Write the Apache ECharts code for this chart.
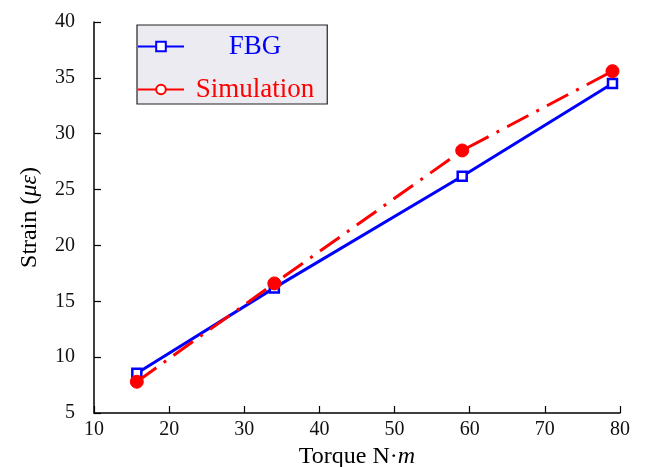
<!DOCTYPE html>
<html><head><meta charset="utf-8">
<script src="https://cdn.jsdelivr.net/npm/echarts@6/dist/echarts.min.js"></script>
<style>html,body{margin:0;padding:0;background:#fff}#c{width:648px;height:467px}</style>
</head><body><div id="c"></div>
<script>
const torque = [15.7, 34.0, 59.0, 79.0];
const fbg = [8.55, 16.2, 26.2, 34.5];
const simulation = [7.8, 16.6, 28.5, 35.6];
const xTicks = [10, 20, 30, 40, 50, 60, 70, 80];
const yTicks = [5, 10, 15, 20, 25, 30, 35, 40];

const font = 'Liberation Serif, Times New Roman, serif';
const chart = echarts.init(document.getElementById('c'));
chart.setOption({
  animation: false,
  backgroundColor: '#fff',
  grid: {left: 94, right: 28, top: 22, bottom: 54, outerBoundsMode: 'none', containLabel: false},
  legend: {
    left: 137, top: 25, orient: 'vertical',
    backgroundColor: '#ecebf1', borderColor: '#222', borderWidth: 1.2,
    padding: [8, 13, 1, 0],
    itemWidth: 46, itemHeight: 12, itemGap: 16,
    formatter: name => '{t|' + name + '}',
    textStyle: {fontFamily: font, fontSize: 27,
      rich: {t: {fontFamily: font, fontSize: 27, width: 132, align: 'center'}}},
    data: [
      {name: 'FBG', textStyle: {color: '#0000ff', rich: {t: {color: '#0000ff'}}}, itemStyle: {color: '#fff', borderColor: '#0000ff', borderWidth: 2}},
      {name: 'Simulation', textStyle: {color: '#ff0000', rich: {t: {color: '#ff0000'}}}, itemStyle: {color: '#fff', borderColor: '#ff0000', borderWidth: 2}, lineStyle: {type: 'solid'}}
    ]
  },
  xAxis: {
    type: 'value', min: 10, max: 80, interval: 10,
    name: 'Torque N·{i|m}', nameLocation: 'middle', nameGap: 28,
    nameTextStyle: {fontFamily: font, fontSize: 24, color: '#000', rich: {i: {fontFamily: font, fontStyle: 'italic', fontSize: 24, color: '#000'}}},
    axisLine: {lineStyle: {color: '#000', width: 1.5}},
    axisTick: {inside: true, length: 7, lineStyle: {color: '#000', width: 1.2}},
    axisLabel: {fontFamily: font, fontSize: 20, color: '#111', margin: 7},
    splitLine: {show: false}
  },
  yAxis: {
    type: 'value', min: 5, max: 40, interval: 5,
    name: 'Strain ({i|με})', nameLocation: 'middle', nameGap: 52, nameRotate: 90,
    nameTextStyle: {fontFamily: font, fontSize: 24, color: '#000', rich: {i: {fontFamily: font, fontStyle: 'italic', fontSize: 24, color: '#000'}}},
    axisLine: {show: true, lineStyle: {color: '#000', width: 1.5}},
    axisTick: {show: true, inside: true, length: 7, lineStyle: {color: '#000', width: 1.2}},
    axisLabel: {fontFamily: font, fontSize: 20, color: '#111', margin: 19},
    splitLine: {show: false}
  },
  series: [
    {
      name: 'FBG', type: 'line',
      data: torque.map((x, i) => [x, fbg[i]]),
      lineStyle: {color: '#0000ff', width: 3},
      itemStyle: {color: '#fff', borderColor: '#0000ff', borderWidth: 2.5},
      symbol: 'rect', symbolSize: 9, z: 2
    },
    {
      name: 'Simulation', type: 'line',
      data: torque.map((x, i) => [x, simulation[i]]),
      lineStyle: {color: '#ff0000', width: 3, type: [24, 9, 3, 9]},
      itemStyle: {color: '#ff0000', borderColor: '#ff0000'},
      symbol: 'circle', symbolSize: 13, z: 3
    }
  ]
});
</script></body></html>
